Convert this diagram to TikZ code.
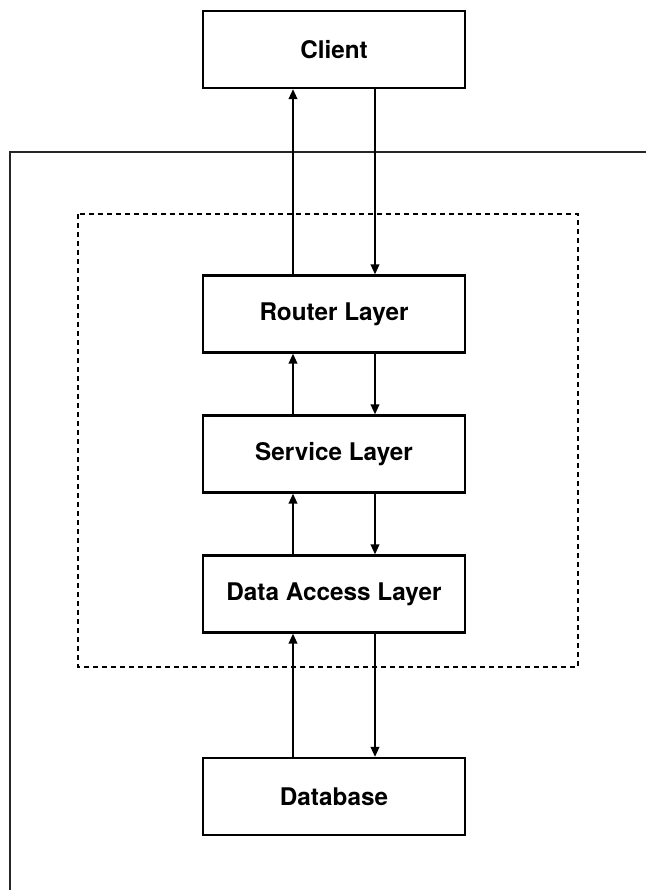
\documentclass[tikz,border=0pt]{standalone}
\usepackage{fontspec}
\setmainfont{TeX Gyre Heros}
\usetikzlibrary{arrows.meta}

\tikzset{
  layerbox/.style={draw=black, line width=2.2pt, fill=white, minimum width=262pt,
    minimum height=77pt, inner sep=0pt, font=\fontsize{24.3}{29}\selectfont\bfseries},
  flow/.style={line width=2pt, -{Triangle[length=10pt,width=8.5pt]}},
  frameline/.style={draw=black!85, line width=2.2pt},
  boundary/.style={draw=black, line width=2pt, dash pattern=on 5pt off 4pt}
}

\begin{document}
\begin{tikzpicture}[x=1pt, y=-1pt]
  \useasboundingbox (0,0) rectangle (645,890);

  % outer frame: only its top and left edges fall inside the page
  \coordinate (frameBL) at (10,900);
  \coordinate (frameTL) at (10,152);
  \coordinate (frameTR) at (660,152);
  \draw[frameline] (frameBL) -- (frameTL) -- (frameTR);

  % dashed boundary around the application layers
  \draw[boundary] (78,214) rectangle (578,667);

  % boxes
  \node[layerbox] (client)  at (334,49.5)  {Client};
  \node[layerbox] (router)  at (334,314)   {Router Layer};
  \node[layerbox] (service) at (334,454)   {Service Layer};
  \node[layerbox] (dal)     at (334,594)   {Data Access Layer};
  \node[layerbox] (db)      at (334,796.5) {Database};

  % requests go down on the right, responses go up on the left
  \foreach \upper/\lower in {client/router, router/service, service/dal, dal/db} {
    \draw[flow] ([xshift=-41pt]\lower.north) -- ([xshift=-41pt]\upper.south);
    \draw[flow] ([xshift=41pt]\upper.south) -- ([xshift=41pt]\lower.north);
  }
\end{tikzpicture}
\end{document}
